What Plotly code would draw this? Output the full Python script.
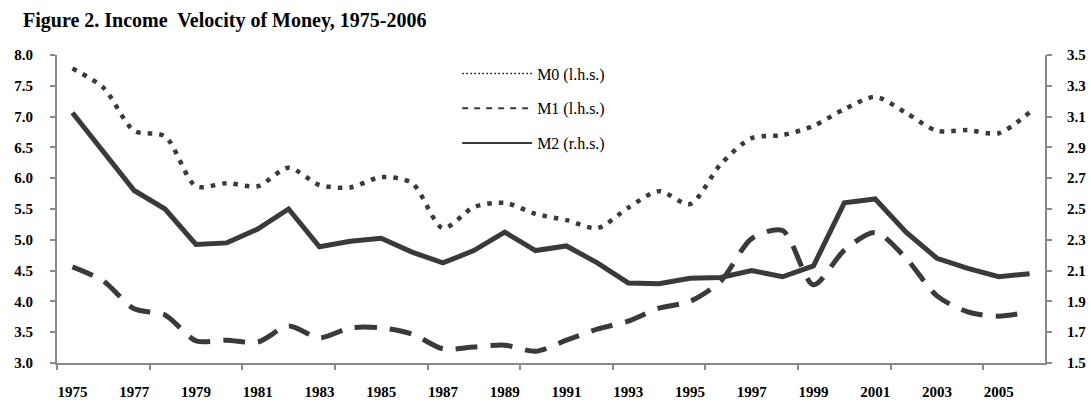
import plotly.graph_objects as go

years = list(range(1975, 2007))
m0_lhs = [7.78, 7.47, 6.77, 6.68, 5.87, 5.92, 5.87, 6.17, 5.89, 5.85, 6.02,
          5.92, 5.19, 5.53, 5.60, 5.42, 5.32, 5.19, 5.52, 5.79, 5.58,
          6.23, 6.65, 6.70, 6.85, 7.12, 7.32, 7.06, 6.77, 6.78, 6.73, 7.07]
m1_lhs = [4.56, 4.33, 3.88, 3.78, 3.36, 3.37, 3.34, 3.60, 3.41, 3.57, 3.57,
          3.47, 3.23, 3.26, 3.29, 3.19, 3.37, 3.55, 3.68, 3.89, 4.00,
          4.33, 5.02, 5.15, 4.27, 4.83, 5.12, 4.70, 4.09, 3.83, 3.76, 3.83]
m2_rhs = [3.125, 2.87, 2.62, 2.50, 2.27, 2.28, 2.37, 2.50, 2.255, 2.29, 2.31,
          2.22, 2.15, 2.23, 2.35, 2.23, 2.26, 2.15, 2.02, 2.015, 2.05,
          2.055, 2.10, 2.06, 2.13, 2.54, 2.565, 2.35, 2.18, 2.115, 2.06, 2.08]
label_years = years[0:31:2]
series_names = ["M0 (l.h.s.)", "M1 (l.h.s.)", "M2 (r.h.s.)"]

LINE = "#3a3a3a"
AXIS = "#8a8a8a"
SERIF = "Liberation Serif"

fig = go.Figure()
fig.add_trace(go.Scatter(x=years, y=m0_lhs, mode="lines", showlegend=False,
                         line=dict(color=LINE, width=4.5, dash="4.5px,7px", shape="spline", smoothing=0.8)))
fig.add_trace(go.Scatter(x=years, y=m1_lhs, mode="lines", showlegend=False,
                         line=dict(color=LINE, width=5, dash="22px,13px", shape="spline", smoothing=0.8)))
fig.add_trace(go.Scatter(x=years, y=m2_rhs, mode="lines", showlegend=False, yaxis="y2",
                         line=dict(color=LINE, width=5)))

# legend entries (thin samples as in the reference legend)
legend_styles = [dict(width=1.5, dash="2px,2px"), dict(width=2, dash="6px,6px"), dict(width=2)]
for i, (nm, st) in enumerate(zip(series_names, legend_styles)):
    fig.add_trace(go.Scatter(x=[None], y=[None], mode="lines", name=nm, legendgroup=str(i),
                             line=dict(color=LINE, **st)))

tickfont = dict(family=SERIF, size=15, color="black", weight="bold")

fig.update_layout(
    width=1091, height=402,
    margin=dict(l=57, r=46, t=55, b=39),
    paper_bgcolor="white", plot_bgcolor="white",
    title=dict(text="Figure 2. Income\u00a0 Velocity of Money, 1975-2006",
               x=23 / 1091, xref="container", xanchor="left",
               y=1 - 20 / 402, yref="container", yanchor="middle",
               font=dict(family=SERIF, size=20, color="black", weight="bold")),
    xaxis=dict(range=[1974.5, 2006.5], tickmode="array", tickvals=label_years,
               ticktext=[str(y) for y in label_years], ticks="", ticklabelstandoff=14,
               showline=True, linecolor=AXIS, linewidth=2, showgrid=False, zeroline=False,
               tickfont=tickfont, automargin=False,
               minor=dict(tick0=1974.5, dtick=3, ticks="outside", ticklen=5,
                          tickcolor=AXIS, tickwidth=1.5, showgrid=False)),
    yaxis=dict(range=[3, 8], tickmode="linear", tick0=3, dtick=0.5, tickformat=".1f",
               showline=True, linecolor=AXIS, linewidth=2, ticks="outside", ticklen=5,
               tickcolor=AXIS, tickwidth=1.5, showgrid=False, zeroline=False,
               ticklabelstandoff=14, tickfont=tickfont, automargin=False),
    yaxis2=dict(range=[1.5, 3.5], tickmode="linear", tick0=1.5, dtick=0.2, tickformat=".1f",
                overlaying="y", side="right",
                showline=True, linecolor=AXIS, linewidth=2, ticks="outside", ticklen=5,
                tickcolor=AXIS, tickwidth=1.5, showgrid=False, zeroline=False,
                ticklabelstandoff=12, tickfont=tickfont, automargin=False),
    legend=dict(x=0.405, y=0.995, xanchor="left", yanchor="top",
                bgcolor="rgba(0,0,0,0)", itemwidth=70, tracegroupgap=11,
                traceorder="grouped",
                font=dict(family=SERIF, size=16, color="black")),
)

fig.write_html("out.html", config={"displayModeBar": False},
               post_script="document.body.style.margin='0';")
